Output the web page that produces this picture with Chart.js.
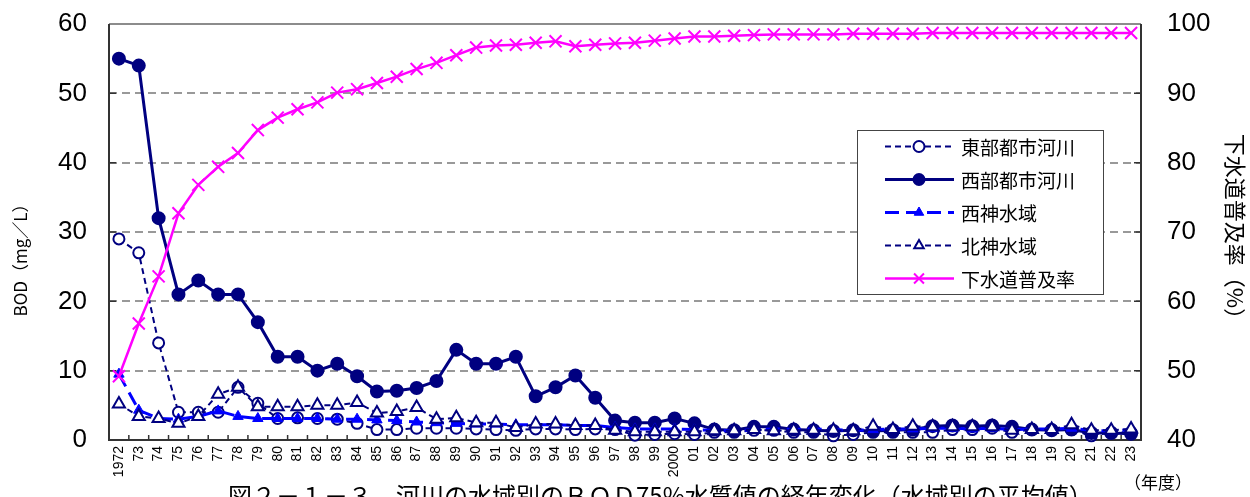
<!DOCTYPE html>
<html lang="ja">
<head>
<meta charset="utf-8">
<title>河川の水域別のBOD75%水質値の経年変化</title>
<script src="https://cdn.jsdelivr.net/npm/chart.js@4.4.1/dist/chart.umd.min.js"></script>
<style>
  html, body { margin: 0; padding: 0; background: #fff; }
  #wrap { width: 1250px; height: 497px; position: relative; overflow: hidden; }
</style>
</head>
<body>
<div id="wrap"><canvas id="bodChart" width="1250" height="497"></canvas></div>
<script>
'use strict';

// ── data ───────────────────────────────────────────────────
const years = ['1972','73','74','75','76','77','78','79','80','81','82','83','84','85','86','87','88','89','90','91','92','93','94','95','96','97','98','99',
               '2000','01','02','03','04','05','06','07','08','09','10','11','12','13','14','15','16','17','18','19','20','21','22','23'];

// 東部都市河川 (BOD mg/L)
const eastUrban  = [29, 27, 14, 4, 4, 4, 7.6, 5.3, 3.1, 3.2, 3.1, 3.0, 2.4, 1.5, 1.5,
                    1.7, 1.7, 1.7, 1.6, 1.5, 1.4, 1.6, 1.6, 1.5, 1.6, 1.5, 0.7, 0.8, 0.9,
                    0.8, 1.1, 1.1, 1.4, 1.4, 1.1, 1.1, 0.6, 0.8, 1.1, 1.1, 1.1, 1.1, 1.5, 1.5, 1.7, 1.1, 1.5, 1.5, 1.5, 0.6, 1.1, 1.1];
// 西部都市河川
const westUrban  = [55, 54, 32, 21, 23, 21, 21, 17, 12, 12, 10, 11, 9.2, 7, 7.1, 7.5, 8.5, 13, 11, 11, 12, 6.3, 7.6, 9.3, 6.1, 2.8, 2.5, 2.5, 3.1,
                    2.4, 1.5, 1.4, 1.9, 1.9, 1.5, 1.4, 1.3, 1.4, 1.3, 1.4, 1.5, 2.0, 2.1, 2.0, 2.1, 1.9, 1.5, 1.4, 1.5, 1.0, 1.0, 0.9];
// 西神水域
const seishin    = [9.5, 4.3, 3.1, 3.0, 3.4, 4.2, 3.4, 3.1, 3.1, 3.1, 3.1, 3.0, 3.0, 2.9, 2.8,
                    2.6, 2.5, 2.4, 2.3, 2.3, 2.2, 2.2, 2.2, 2.1, 2.1, 1.8, 1.6, 1.6, 1.6,
                    1.5, 1.4, 1.3, 1.5, 1.6, 1.5, 1.6, 1.5, 1.4, 1.5, 1.6, 1.6, 1.7, 1.7, 1.6, 1.7, 1.5, 1.6, 1.6, 1.7, 1.4, 1.3, 1.5];
// 北神水域
const hokushin   = [5.2, 3.4, 3.1, 2.4, 3.4, 6.6, 7.6, 4.8, 4.8, 4.8, 5.0, 5.0, 5.4, 3.9,
                    4.1, 4.7, 3.0, 3.2, 2.5, 2.5, 1.8, 2.3, 2.3, 2.1, 2.1, 1.4, 1.2, 1.2, 1.2,
                    1.2, 1.35, 1.35, 1.5, 1.35, 1.4, 1.4, 1.4, 1.35, 2.0, 1.5, 2.0, 1.9, 1.9, 1.9, 1.9, 1.4, 1.5, 1.5, 2.2, 1.4, 1.4, 1.6];
// 下水道普及率 (%)
const sewerRate  = [49.2, 56.8, 63.6, 72.7, 76.8, 79.4, 81.4, 84.7, 86.5, 87.7, 88.7, 90.1, 90.6, 91.5, 92.4, 93.5, 94.4, 95.5, 96.6,
                    96.9, 97.0, 97.3, 97.5, 96.8, 97.0, 97.2, 97.3, 97.6, 97.9, 98.2, 98.2, 98.3, 98.4, 98.5,
                    98.5, 98.5, 98.5, 98.6, 98.6, 98.6, 98.6, 98.7, 98.7, 98.7, 98.7, 98.7, 98.7, 98.7, 98.7, 98.7, 98.7, 98.7];

const bodTicks   = [0, 10, 20, 30, 40, 50, 60];
const rateTicks  = [40, 50, 60, 70, 80, 90, 100];

// ── look ───────────────────────────────────────────────────
const NAVY = '#000080', BLUE = '#0000ff', MAGENTA = '#ff00ff';
const NUM_FONT = "'Liberation Sans', Arial, sans-serif";
const JP_FONT  = "'Noto Sans CJK JP', 'Noto Sans', sans-serif";
const CAPTION  = '図２－１－３　河川の水域別のＢＯＤ75%水質値の経年変化（水域別の平均値）';

// inner tick marks + plot frame
const framePlugin = {
  id: 'frame',
  beforeDatasetsDraw(chart) {
    const { ctx, chartArea: a, scales } = chart;
    ctx.save();
    ctx.lineWidth = 1.5;
    ctx.strokeStyle = '#333';
    ctx.beginPath();
    bodTicks.forEach(v => {
      const y = scales.y.getPixelForValue(v);
      ctx.moveTo(a.left, y); ctx.lineTo(a.left + 7, y);
    });
    rateTicks.forEach(v => {
      const y = scales.y1.getPixelForValue(v);
      ctx.moveTo(a.right - 7, y); ctx.lineTo(a.right, y);
    });
    for (let i = 1; i < years.length; i++) {
      const x = (scales.x.getPixelForValue(i) + scales.x.getPixelForValue(i - 1)) / 2;
      ctx.moveTo(x, a.bottom); ctx.lineTo(x, a.bottom - 5);
    }
    ctx.stroke();

    ctx.lineWidth = 2;
    ctx.strokeStyle = '#8c8c8c';
    ctx.beginPath(); ctx.moveTo(a.left, a.top); ctx.lineTo(a.right, a.top); ctx.stroke();
    ctx.strokeStyle = '#333';
    ctx.beginPath();
    ctx.moveTo(a.left, a.top); ctx.lineTo(a.left, a.bottom);
    ctx.lineTo(a.right, a.bottom); ctx.lineTo(a.right, a.top);
    ctx.stroke();
    ctx.restore();
  }
};

// legend box inside the plot, plus the loose texts around the plot
const legendPlugin = {
  id: 'boxLegend',
  afterDatasetsDraw(chart) {
    const { ctx } = chart;
    const box = { left: 857, top: 130, width: 246, height: 164 };
    ctx.save();
    ctx.fillStyle = '#fff';
    ctx.fillRect(box.left, box.top, box.width, box.height);
    ctx.strokeStyle = '#444';
    ctx.lineWidth = 1;
    ctx.strokeRect(box.left + 0.5, box.top + 0.5, box.width, box.height);

    chart.data.datasets.forEach((ds, i) => {
      const y = box.top + 16.5 + i * 33;
      ctx.setLineDash(ds.legendDash || []);
      ctx.strokeStyle = ds.borderColor;
      ctx.lineWidth = ds.borderWidth;
      ctx.beginPath(); ctx.moveTo(885, y); ctx.lineTo(954, y); ctx.stroke();
      ctx.setLineDash([]);
      ctx.fillStyle = ds.pointBackgroundColor;
      ctx.strokeStyle = ds.pointBorderColor;
      ctx.lineWidth = ds.pointBorderWidth;
      Chart.helpers.drawPoint(ctx, {
        pointStyle: ds.pointStyle,
        radius: ds.pointStyle === 'crossRot' ? 7 : 5.5,
        borderWidth: ds.pointBorderWidth,
        rotation: 0
      }, 919, y);
      ctx.fillStyle = '#000';
      ctx.font = '19px ' + JP_FONT;
      ctx.textBaseline = 'middle';
      ctx.textAlign = 'left';
      ctx.fillText(ds.label, 961, y + 1);
    });
    ctx.restore();
  },
  afterDraw(chart) {
    const { ctx } = chart;
    ctx.save();
    ctx.fillStyle = '#000';
    ctx.textBaseline = 'middle';
    ctx.textAlign = 'left';
    ctx.font = '17px ' + JP_FONT;
    ctx.fillText('（年度）', 1124, 483);
    ctx.font = '24px ' + JP_FONT;
    ctx.textBaseline = 'top';
    ctx.fillText(CAPTION, 228, 484);

    // left axis title sits a little below the plot's middle in the figure
    ctx.translate(21, 256);
    ctx.rotate(-Math.PI / 2);
    ctx.textAlign = 'center';
    ctx.textBaseline = 'middle';
    ctx.font = '17px ' + JP_FONT;
    ctx.fillText('BOD（mg／L）', 0, 0);
    ctx.restore();
  }
};

// fixed box sizes so the plot sits where the figure has it
function fixVertical(width) {
  return s => { s.width = width; s.paddingTop = 0; s.paddingBottom = 0; };
}

const ctx = document.getElementById('bodChart');
new Chart(ctx, {
  type: 'line',
  data: {
    labels: years,
    datasets: [
      {
        label: '東部都市河川', data: eastUrban, yAxisID: 'y', order: 5,
        borderColor: NAVY, borderWidth: 2, borderDash: [6, 4], legendDash: [6, 4],
        pointStyle: 'circle', pointRadius: 5.5, pointBorderWidth: 2,
        pointBackgroundColor: '#fff', pointBorderColor: NAVY
      },
      {
        label: '西部都市河川', data: westUrban, yAxisID: 'y', order: 4,
        borderColor: NAVY, borderWidth: 3,
        pointStyle: 'circle', pointRadius: 6, pointBorderWidth: 2,
        pointBackgroundColor: NAVY, pointBorderColor: NAVY
      },
      {
        label: '西神水域', data: seishin, yAxisID: 'y', order: 3,
        borderColor: BLUE, borderWidth: 3, borderDash: [14, 7], legendDash: [14, 7],
        pointStyle: 'triangle', pointRadius: 6, pointBorderWidth: 1,
        pointBackgroundColor: BLUE, pointBorderColor: BLUE
      },
      {
        label: '北神水域', data: hokushin, yAxisID: 'y', order: 2,
        borderColor: NAVY, borderWidth: 2, borderDash: [6, 4], legendDash: [6, 4],
        pointStyle: 'triangle', pointRadius: 7, pointBorderWidth: 2,
        pointBackgroundColor: '#fff', pointBorderColor: NAVY
      },
      {
        label: '下水道普及率', data: sewerRate, yAxisID: 'y1', order: 1,
        borderColor: MAGENTA, borderWidth: 2.5,
        pointStyle: 'crossRot', pointRadius: 8.5, pointBorderWidth: 2,
        pointBackgroundColor: MAGENTA, pointBorderColor: MAGENTA
      }
    ]
  },
  options: {
    responsive: false,
    animation: false,
    layout: { padding: { top: 24, left: 0, right: 0, bottom: 0 } },
    elements: { line: { tension: 0 } },
    datasets: { line: { clip: false } },
    plugins: {
      legend: { display: false },
      tooltip: { enabled: false }
    },
    scales: {
      x: {
        offset: true,
        grid: { display: false, drawTicks: false },
        border: { display: false },
        ticks: {
          autoSkip: false, minRotation: 90, maxRotation: 90, padding: 6,
          color: '#000', font: { family: NUM_FONT, size: 14 }
        },
        afterFit(s) { s.height = 57; s.paddingLeft = 0; s.paddingRight = 0; }
      },
      y: {
        position: 'left', min: 0, max: 60,
        grid: {
          drawTicks: false, lineWidth: 2,
          color: c => (c.tick.value === 0 || c.tick.value === 60) ? 'rgba(0,0,0,0)' : '#999'
        },
        border: { display: false, dash: [8, 5] },
        ticks: {
          stepSize: 10, padding: 22, color: '#000',
          font: { family: NUM_FONT, size: 26 }
        },
        title: { display: false },
        afterFit: fixVertical(109)
      },
      y1: {
        position: 'right', min: 40, max: 100,
        grid: { drawOnChartArea: false, drawTicks: false },
        border: { display: false },
        ticks: {
          stepSize: 10, padding: 26, color: '#000',
          font: { family: NUM_FONT, size: 26 }
        },
        title: {
          display: true, text: '下水道普及率（%）', color: '#000',
          font: { family: JP_FONT, size: 22 }, padding: { top: 1, bottom: 0 }
        },
        afterFit: fixVertical(109)
      }
    }
  },
  plugins: [framePlugin, legendPlugin]
});
</script>
</body>
</html>
